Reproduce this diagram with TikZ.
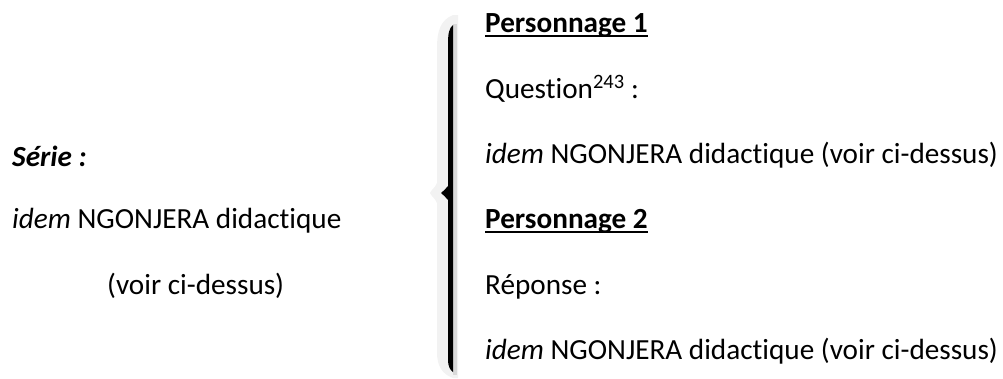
\documentclass[tikz,border=0pt]{standalone}
\usepackage{fontspec}
\setmainfont{Carlito}[Ligatures={NoCommon,NoContextual}]
\newcommand\myul[1]{\setbox0\hbox{#1}\rlap{\raisebox{-5pt}{\rule{\wd0}{1.9pt}}}\box0}
\begin{document}
\begin{tikzpicture}[x=1pt,y=-1pt,
  txt/.style={anchor=base west,inner sep=0pt,font=\fontsize{29.2}{35}\selectfont}]
\useasboundingbox (0,0) rectangle (1003,378);
% brace shadow
\fill[gray!10] (453,15) .. controls (441,20) and (437,30) .. (437,48) -- (437,183)
  .. controls (435,188) and (431,190) .. (430,193) .. controls (431,196) and (435,198) .. (437,203)
  -- (437,352) .. controls (437,366) and (442,374) .. (453,378) -- (458,378) -- (458,15) -- cycle;
\fill[gray!30] (453,24) rectangle (457,375);
% brace
\fill[black] (453,25) .. controls (449,28) and (448,34) .. (448,44) -- (448,186)
  .. controls (446,189) and (443,191) .. (441,193) .. controls (443,195) and (446,197) .. (448,200)
  -- (448,360) .. controls (448,366) and (450,370) .. (453,372) -- cycle;
% left column
\node[txt] (serie) at (12,166) {\textbf{\textit{Série :}}};
\node[txt] (lidem) at (12,228) {\textit{idem} NGONJERA didactique};
\node[txt] (lvoir) at (107,294) {(voir ci-dessus)};
% right column
\node[txt] (p1) at (485,32) {\textbf{\myul{Personnage 1}}};
\node[txt] (q) at (485,98) {Question\textsuperscript{243} :};
\node[txt] (ridem1) at (485,163) {\textit{idem} NGONJERA didactique (voir ci-dessus)};
\node[txt] (p2) at (485,228) {\textbf{\myul{Personnage 2}}};
\node[txt] (r) at (485,294) {Réponse :};
\node[txt] (ridem2) at (485,359) {\textit{idem} NGONJERA didactique (voir ci-dessus)};
\end{tikzpicture}
\end{document}
